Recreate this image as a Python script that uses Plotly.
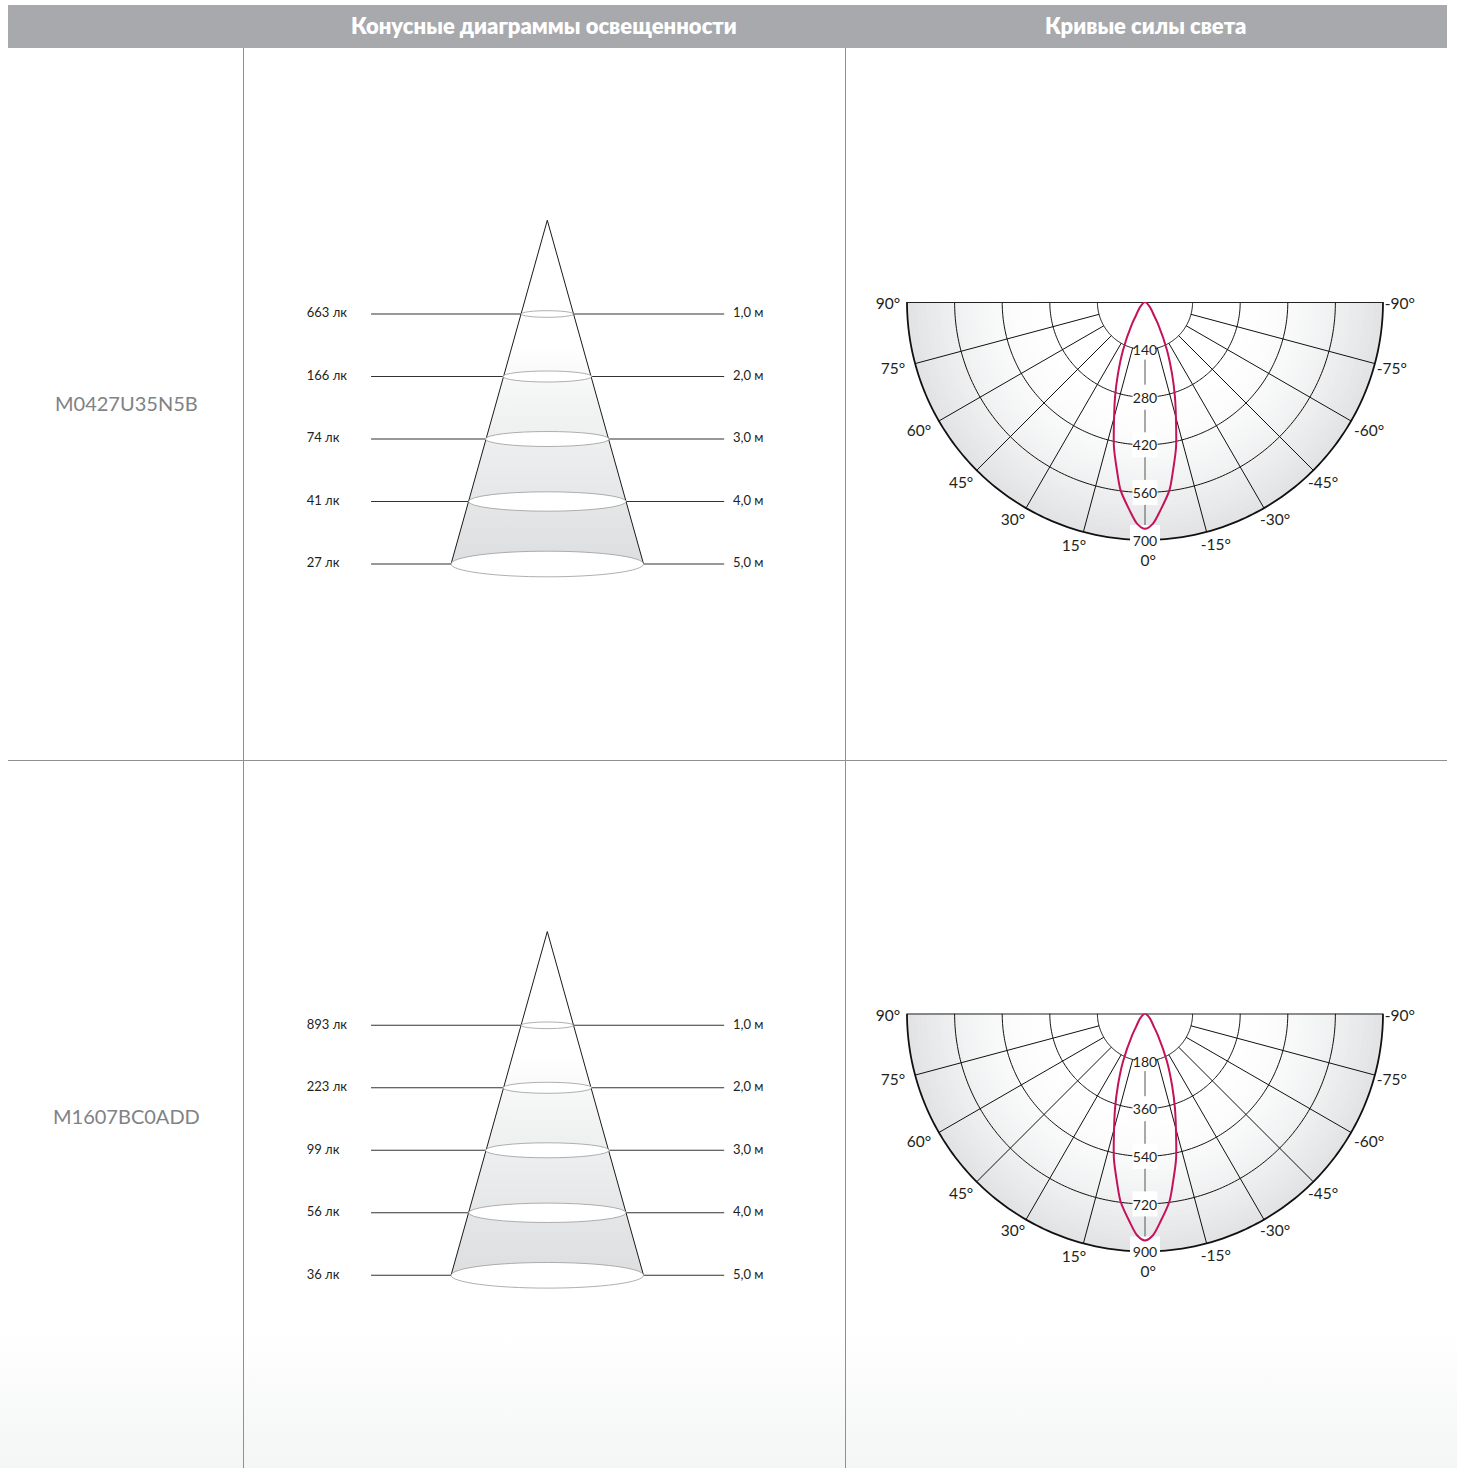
import plotly.graph_objects as go

W, H = 1457, 1468
FONT = "Lato"
HEADERS = ["Конусные диаграммы освещенности", "Кривые силы света"]
MODELS = ["M0427U35N5B", "M1607BC0ADD"]

DIST = [1, 2, 3, 4, 5]
DIST_LABELS = ["1,0 м", "2,0 м", "3,0 м", "4,0 м", "5,0 м"]
APEX_DIST = -0.5
HALF_WIDTH = [0.42, 0.71, 0.99, 1.26, 1.54]
ELLIPSE_H = [0.053, 0.088, 0.12, 0.155, 0.205]
LUX_LABELS_A = ["663 лк", "166 лк", "74 лк", "41 лк", "27 лк"]
LUX_LABELS_B = ["893 лк", "223 лк", "99 лк", "56 лк", "36 лк"]

ANGLES = [90, 75, 60, 45, 30, 15, 0, -15, -30, -45, -60, -75, -90]
CURVE_THETA = [48, 45, 34, 30.6, 24.6, 20.6, 17.5, 14.3, 12.1, 9.5, 7.4, 4.3, 2, 0]
CURVE_A = [0, 20, 47, 75, 155, 226, 293, 370, 436, 501, 558, 613, 653, 667]
CURVE_B = [0, 27, 60, 96, 199, 291, 377, 476, 561, 644, 717, 788, 840, 858]
RINGS_A = [140, 280, 420, 560, 700]
RINGS_B = [180, 360, 540, 720, 900]

# where each angle label sits, as it does in the drawing: angle and fraction of the rim radius
LABEL_THETA = [89.3, 74.9, 60.1, 45.3, 31.1, 16.2, -0.7, -16.2, -30.7, -44.4, -59.9, -74.6, -89.3]
LABEL_RFRAC = [1.080, 1.097, 1.095, 1.087, 1.074, 1.071, 1.092, 1.067, 1.070, 1.070, 1.088, 1.076, 1.071]

RANGE_PAD = 1.15
PX_RIM = 238
CX = 1145

fig = go.Figure()
shapes, annotations = [], []

def px_x(a, b):
    return [a / W, b / W]

def px_y(top, bottom):
    return [1 - bottom / H, 1 - top / H]

# page bottom gradient
fig.add_trace(go.Scatter(x=[0, 1, 1, 0, 0], y=[0, 0, 1, 1, 0], mode="lines", line=dict(width=0),
                         fill="toself", xaxis="x", yaxis="y", hoverinfo="skip",
                         fillgradient=dict(type="vertical", start=0, stop=1,
                                           colorscale=[[0, "#f4f5f5"], [1, "#ffffff"]])))
layout_axes = dict(
    xaxis=dict(domain=[0, 1], range=[0, 1], visible=False),
    yaxis=dict(domain=px_y(1330, H), range=[0, 1], visible=False),
)

def cone(idx, dy, lux):
    xn, yn = f"x{idx}", f"y{idx}"
    xa, ya = f"xaxis{idx}", f"yaxis{idx}"
    layout_axes[xa] = dict(domain=px_x(290, 804.6), range=[-4.117, 4.117], visible=False)
    layout_axes[ya] = dict(domain=px_y(200 + dy, 600 + dy), range=[5.576, -0.824], visible=False)
    w5 = HALF_WIDTH[-1]
    fig.add_trace(go.Scatter(x=[0, w5, -w5, 0], y=[APEX_DIST, DIST[-1], DIST[-1], APEX_DIST],
                             mode="lines", line=dict(width=0), fill="toself", xaxis=xn, yaxis=yn,
                             hoverinfo="skip",
                             fillgradient=dict(type="vertical", start=1.5, stop=DIST[-1],
                                               colorscale=[[0, "#ffffff"], [0.25, "#f3f4f4"], [1, "#dddee0"]])))
    fig.add_trace(go.Scatter(x=[-w5, 0, w5], y=[DIST[-1], APEX_DIST, DIST[-1]], mode="lines",
                             line=dict(color="#1a1a1a", width=1), xaxis=xn, yaxis=yn, hoverinfo="skip"))
    for d, w in zip(DIST, HALF_WIDTH):
        fig.add_trace(go.Scatter(x=[-2.82, -w], y=[d, d], mode="lines", line=dict(color="#333333", width=1.1),
                                 xaxis=xn, yaxis=yn, hoverinfo="skip"))
        fig.add_trace(go.Scatter(x=[w, 2.83], y=[d, d], mode="lines", line=dict(color="#333333", width=1.1),
                                 xaxis=xn, yaxis=yn, hoverinfo="skip"))
    for d, w, h in zip(DIST, HALF_WIDTH, ELLIPSE_H):
        shapes.append(dict(type="circle", xref=xn, yref=yn, x0=-w, x1=w, y0=d - h, y1=d + h,
                           fillcolor="#ffffff", line=dict(color="#9a9a9a", width=0.8), layer="above"))
    fig.add_trace(go.Scatter(x=[-3.85] * 5, y=DIST, mode="text", text=lux, textposition="middle right",
                             textfont=dict(family=FONT, size=13, color="#231f20"), xaxis=xn, yaxis=yn, hoverinfo="skip"))
    fig.add_trace(go.Scatter(x=[2.97] * 5, y=DIST, mode="text", text=DIST_LABELS, textposition="middle right",
                             textfont=dict(family=FONT, size=13, color="#231f20"), xaxis=xn, yaxis=yn, hoverinfo="skip"))

def polar(name, dy, rings, curve):
    rmax = rings[-1]
    sp = name
    stops = 30
    radii = [rmax * (1 - i / stops * 0.6) for i in range(stops + 1)]
    colors = []
    for i in range(stops + 1):
        t = (1 - i / stops) ** 1.6
        c = [round(255 + (e - 255) * t) for e in (0xe2, 0xe3, 0xe5)]
        colors.append(f"rgb({c[0]},{c[1]},{c[2]})")
    fig.add_trace(go.Barpolar(r=radii, theta=[0] * len(radii), width=[180] * len(radii), base=0,
                              marker=dict(color=colors, line=dict(width=0)), subplot=sp, hoverinfo="skip"))
    ring_theta = list(range(-90, 91))
    for i, rv in enumerate(rings):
        fig.add_trace(go.Scatterpolar(r=[rv] * len(ring_theta), theta=ring_theta, mode="lines", subplot=sp,
                                      cliponaxis=False, hoverinfo="skip",
                                      line=dict(color="#111111", width=1.8 if rv == rmax else 1)))
    for a in ANGLES:
        if abs(a) == 90:
            continue
        fig.add_trace(go.Scatterpolar(r=[rings[0], rmax], theta=[a, a], mode="lines", subplot=sp, hoverinfo="skip",
                                      line=dict(color="#555555" if a == 0 else "#111111", width=1)))
    fig.add_trace(go.Scatterpolar(r=[rmax, 0, rmax], theta=[90, 90, -90], mode="lines", subplot=sp,
                                  cliponaxis=False, hoverinfo="skip", line=dict(color="#222222", width=1.8)))
    fig.add_trace(go.Scatterpolar(r=rings, theta=[0] * 5, mode="markers", subplot=sp, cliponaxis=False, hoverinfo="skip",
                                  marker=dict(symbol="square", color="#ffffff", opacity=1, line=dict(width=0),
                                              size=[20, 25, 25, 25, 30])))
    fig.add_trace(go.Scatterpolar(r=[v + rmax * 0.009 for v in rings], theta=[0] * 5, mode="text",
                                  text=[str(v) for v in rings], textposition="middle center", subplot=sp,
                                  cliponaxis=False, hoverinfo="skip",
                                  textfont=dict(family=FONT, size=14, color="#231f20")))
    fig.add_trace(go.Scatterpolar(r=[rmax * f for f in LABEL_RFRAC], theta=LABEL_THETA, mode="text",
                                  text=[f"{a}°" for a in ANGLES], textposition="middle center", subplot=sp,
                                  cliponaxis=False, hoverinfo="skip",
                                  textfont=dict(family=FONT, size=15.5, color="#231f20")))
    theta = [-t for t in CURVE_THETA] + CURVE_THETA[::-1][1:]
    rad = curve + curve[::-1][1:]
    fig.add_trace(go.Scatterpolar(r=rad, theta=theta, mode="lines", subplot=sp, hoverinfo="skip", cliponaxis=False,
                                  line=dict(color="#c4135b", width=2, shape="spline", smoothing=0.8)))
    outer = PX_RIM * RANGE_PAD
    return dict(
        domain=dict(x=px_x(CX - outer, CX + outer), y=px_y(302 + dy, 302 + dy + outer)),
        sector=[180, 360], bgcolor="rgba(0,0,0,0)",
        radialaxis=dict(visible=False, range=[0, rmax * RANGE_PAD]),
        angularaxis=dict(direction="clockwise", rotation=-90, showticklabels=False, showgrid=False,
                         showline=False, ticks=""),
    )

cone(2, 0, LUX_LABELS_A)
cone(3, 711.3, LUX_LABELS_B)
polar_a = polar("polar", 0, RINGS_A, CURVE_A)
polar_b = polar("polar2", 711.5, RINGS_B, CURVE_B)

# table frame
shapes.append(dict(type="rect", xref="paper", yref="paper", x0=8 / W, x1=1447 / W, y0=1 - 48 / H, y1=1 - 5 / H,
                   fillcolor="#a7a9ac", line=dict(width=0), layer="above"))
for x in (243.5, 845.5):
    shapes.append(dict(type="line", xref="paper", yref="paper", x0=x / W, x1=x / W, y0=0, y1=1 - 48 / H,
                       line=dict(color="#8f9092", width=1), layer="above"))
shapes.append(dict(type="line", xref="paper", yref="paper", x0=8 / W, x1=1447 / W, y0=1 - 760.5 / H, y1=1 - 760.5 / H,
                   line=dict(color="#8f9092", width=1), layer="above"))

for text, x in zip(HEADERS, (544, 1146)):
    annotations.append(dict(text=text, x=x / W, y=1 - 26 / H, xref="paper", yref="paper", showarrow=False,
                            xanchor="center", yanchor="middle",
                            font=dict(family=FONT, size=22, color="#ffffff", weight=800)))
for text, y in zip(MODELS, (403, 1116)):
    annotations.append(dict(text=text, x=126 / W, y=1 - y / H, xref="paper", yref="paper", showarrow=False,
                            xanchor="center", yanchor="middle", font=dict(family=FONT, size=20, color="#808285")))

fig.update_layout(width=W, height=H, autosize=False, margin=dict(l=0, r=0, t=0, b=0), showlegend=False,
                  paper_bgcolor="#ffffff", plot_bgcolor="rgba(0,0,0,0)", shapes=shapes, annotations=annotations,
                  polar=polar_a, polar2=polar_b, **layout_axes)
fig.write_html("out.html", post_script="document.body.style.margin='0';document.body.style.overflow='hidden';",
               config=dict(displayModeBar=False))
